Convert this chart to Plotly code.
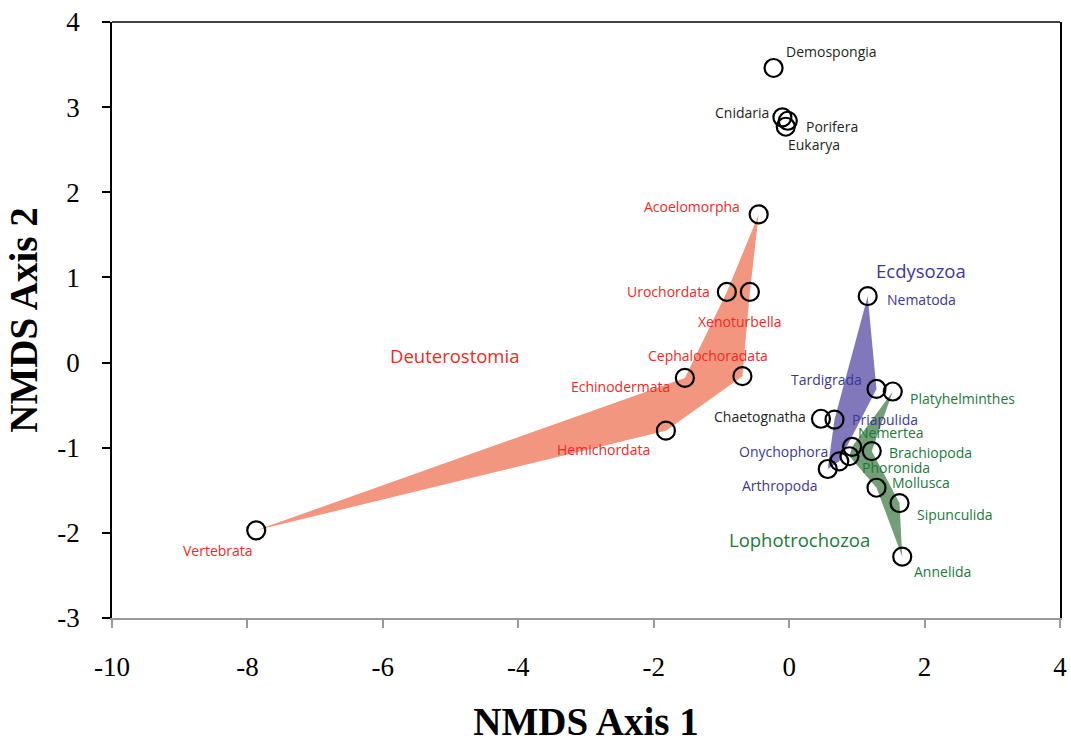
import plotly.graph_objects as go

# ---------------- data ----------------
taxa = ["Demospongia", "Cnidaria", "Porifera", "Eukarya", "Acoelomorpha",
        "Urochordata", "Xenoturbella", "Cephalochoradata", "Echinodermata",
        "Hemichordata", "Vertebrata", "Nematoda", "Tardigrada", "Platyhelminthes",
        "Chaetognatha", "Priapulida", "Nemertea", "Phoronida", "Onychophora",
        "Arthropoda", "Brachiopoda", "Mollusca", "Sipunculida", "Annelida"]
axis1 = [-0.23, -0.10, -0.02, -0.05, -0.45,
         -0.92, -0.58, -0.69, -1.54,
         -1.82, -7.87, 1.16, 1.29, 1.53,
         0.47, 0.67, 0.93, 0.89, 0.74,
         0.57, 1.22, 1.29, 1.63, 1.67]
axis2 = [3.46, 2.88, 2.84, 2.77, 1.74,
         0.83, 0.83, -0.16, -0.18,
         -0.80, -1.97, 0.78, -0.31, -0.34,
         -0.66, -0.67, -0.99, -1.10, -1.16,
         -1.25, -1.04, -1.47, -1.65, -2.28]
group = ["other", "other", "other", "other", "deut",
         "deut", "deut", "deut", "deut",
         "deut", "deut", "ecdy", "ecdy", "loph",
         "other", "ecdy", "loph", "loph", "ecdy",
         "ecdy", "loph", "loph", "loph", "loph"]

# polygon outlines (vertex order by taxon)
hull_deut = ["Vertebrata", "Hemichordata", "Cephalochoradata", "Xenoturbella",
             "Acoelomorpha", "Urochordata", "Echinodermata"]
hull_ecdy = ["Nematoda", "Tardigrada", "Onychophora", "Arthropoda", "Priapulida"]
hull_loph = ["Platyhelminthes", "Brachiopoda", "Sipunculida", "Annelida",
             "Mollusca", "Phoronida", "Nemertea"]

group_names = ["Deuterostomia", "Ecdysozoa", "Lophotrochozoa"]
group_label_x = [-4.94, 1.95, 0.16]
group_label_y = [0.08, 1.08, -2.08]

x_ticks = [-10, -8, -6, -4, -2, 0, 2, 4]
x_tick_text = ["-10", "-8", "-6", "-4", "-2", "0", "2", "4"]
y_ticks = [-3, -2, -1, 0, 1, 2, 3, 4]
y_tick_text = ["-3", "-2", "-1", "0", "1", "2", "3", "4"]

# ---------------- style ----------------
fill_col = {"deut": "rgb(242,150,128)", "ecdy": "rgb(128,120,186)",
            "loph": "rgba(100,148,104,0.9)"}
text_col = {"other": "#231f20", "deut": "#ee2a24", "ecdy": "#3b3796",
            "loph": "#1a7a3a"}

# label placement: (xanchor, xshift px, yshift px)
label_pos = {
    "Demospongia": ("left", 10, 16), "Cnidaria": ("right", -11, 5),
    "Porifera": ("left", 16, -6), "Eukarya": ("left", 0, -18),
    "Acoelomorpha": ("right", -17, 8), "Urochordata": ("right", -15, 0),
    "Xenoturbella": ("center", -10, -30), "Cephalochoradata": ("center", -34, 21),
    "Echinodermata": ("right", -13, -9), "Hemichordata": ("right", -14, -19),
    "Vertebrata": ("right", -1, -20), "Nematoda": ("left", 17, -3),
    "Tardigrada": ("right", -12, 9), "Platyhelminthes": ("left", 15, -7),
    "Chaetognatha": ("right", -13, 2), "Priapulida": ("left", 15, 0),
    "Nemertea": ("left", 4, 14), "Phoronida": ("left", 11, -11),
    "Onychophora": ("right", -9, 10), "Arthropoda": ("right", -8, -16),
    "Brachiopoda": ("left", 15, -1), "Mollusca": ("left", 14, 5),
    "Sipunculida": ("left", 15, -11), "Annelida": ("left", 10, -15),
}

idx = {t: i for i, t in enumerate(taxa)}

fig = go.Figure()

for key, hull in [("deut", hull_deut), ("ecdy", hull_ecdy), ("loph", hull_loph)]:
    hx = [axis1[idx[t]] for t in hull] + [axis1[idx[hull[0]]]]
    hy = [axis2[idx[t]] for t in hull] + [axis2[idx[hull[0]]]]
    fig.add_trace(go.Scatter(x=hx, y=hy, mode="lines", fill="toself",
                             fillcolor=fill_col[key], line=dict(width=0),
                             hoverinfo="skip", showlegend=False))

fig.add_trace(go.Scatter(
    x=axis1, y=axis2, mode="markers", text=taxa, showlegend=False,
    marker=dict(symbol="circle-open", size=18, color="black",
                line=dict(width=2.2, color="black"))))

label_font = "Open Sans, Noto Sans, sans-serif"
for i, t in enumerate(taxa):
    xa, dx, dy = label_pos[t]
    fig.add_annotation(x=axis1[i], y=axis2[i], text=t, showarrow=False,
                       xanchor=xa, yanchor="middle", xshift=dx, yshift=dy,
                       font=dict(family=label_font, size=14,
                                 color=text_col[group[i]]))

for name, gx, gy, key in zip(group_names, group_label_x, group_label_y,
                             ["deut", "ecdy", "loph"]):
    fig.add_annotation(x=gx, y=gy, text=name, showarrow=False,
                       xanchor="center", yanchor="middle",
                       font=dict(family=label_font, size=18.5,
                                 color=text_col[key]))

# top border line
fig.add_shape(type="line", xref="x domain", yref="y domain", x0=0, x1=1,
              y0=1, y1=1, line=dict(color="black", width=1.5))

serif = "Liberation Serif, Times New Roman, serif"
fig.update_layout(
    width=1071, height=743,
    margin=dict(l=112, r=11, t=22, b=125, autoexpand=False),
    plot_bgcolor="white", paper_bgcolor="white",
    showlegend=False,
    xaxis=dict(range=[-10, 4], tickvals=x_ticks, ticktext=x_tick_text,
               showgrid=False, zeroline=False, automargin=False,
               ticklabeloverflow="allow",
               showline=True, linecolor="#9a9a9a", linewidth=2,
               ticks="outside", ticklen=8, tickwidth=2, tickcolor="#9a9a9a",
               tickfont=dict(family=serif, size=27, color="black"),
               ticklabelstandoff=16,
               title=dict(text="<b>NMDS Axis 1</b>", standoff=26,
                          font=dict(family=serif, size=39, color="black"))),
    yaxis=dict(range=[-3, 4], tickvals=y_ticks, ticktext=y_tick_text,
               showgrid=False, zeroline=False, automargin=False,
               ticklabeloverflow="allow",
               showline=True, linecolor="black", linewidth=1.5, mirror=True,
               ticks="outside", ticklen=8, tickwidth=1.5, tickcolor="black",
               tickfont=dict(family=serif, size=27, color="black"),
               ticklabelstandoff=17,
               title=dict(text="<b>NMDS Axis 2</b>", standoff=8,
                          font=dict(family=serif, size=39, color="black"))),
)

fig.write_html("out.html",
               config={"displayModeBar": False},
               post_script="document.body.style.margin='0';"
                           "document.body.style.overflow='hidden';")
